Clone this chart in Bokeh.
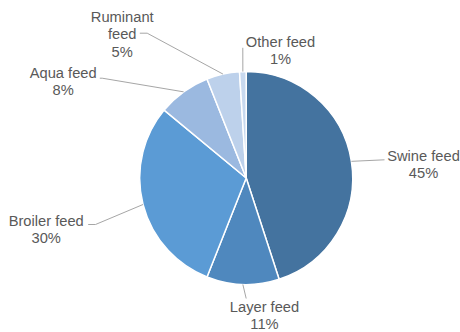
import math
from bokeh.plotting import figure
from bokeh.models import Range1d, ColumnDataSource
from bokeh.core.properties import value
from bokeh.embed import file_html
from bokeh.resources import INLINE

# ---- data ----
categories = ["Swine feed", "Layer feed", "Broiler feed", "Aqua feed", "Ruminant feed", "Other feed"]
shares = [45, 11, 30, 8, 5, 1]
colors = ["#44739F", "#4F88BE", "#5B9BD5", "#9BB9E0", "#BDD1EB", "#C8D9EF"]
label_lines = [["Swine feed"], ["Layer feed"], ["Broiler feed"], ["Aqua feed"], ["Ruminant", "feed"], ["Other feed"]]

# ---- layout (pixel coords, y down) ----
W, H = 460, 332
CX, CY, R = 245.7, 177.5, 106.5
label_pos = [(423, 155), (264, 306.5), (45.7, 220), (62.7, 72.7), (121.7, 16.7), (280, 41)]
leader_pts = [
    [(384, 159.3)],
    [(245.7, 298)],
    [(95, 224), (87.7, 224)],
    [(101.7, 77.7), (99.3, 77.7)],
    [(146.7, 32.7), (139.3, 32.7)],
    [(242.3, 47.3)],
]
LINE_H = 17.2

p = figure(width=W, height=H, x_range=Range1d(0, W), y_range=Range1d(0, H),
           output_backend="svg", toolbar_location=None, min_border=0)
p.axis.visible = False
p.grid.visible = False
p.outline_line_color = None
p.background_fill_color = "white"
p.border_fill_color = "white"

total = sum(shares)
starts, ends, mids = [], [], []
cum = 0
for s in shares:
    a0 = 90 - cum / total * 360
    cum += s
    a1 = 90 - cum / total * 360
    starts.append(math.radians(a0))
    ends.append(math.radians(a1))
    mids.append(math.radians((a0 + a1) / 2))

src = ColumnDataSource(dict(x=[CX] * len(shares), y=[H - CY] * len(shares),
                            start=starts, end=ends, color=colors))
p.wedge(x="x", y="y", radius=R, start_angle="start", end_angle="end",
        direction="clock", fill_color="color", line_color="white", line_width=1.5, source=src)

# leader lines
xs, ys = [], []
for m, pts in zip(mids, leader_pts):
    x0 = CX + R * math.cos(m)
    y0 = (H - CY) + R * math.sin(m)
    xs.append([x0] + [q[0] for q in pts])
    ys.append([y0] + [H - q[1] for q in pts])
p.multi_line(xs=xs, ys=ys, line_color="#A6A6A6", line_width=1)

# labels
tx, ty, tt = [], [], []
for lines, s, (lx, ly) in zip(label_lines, shares, label_pos):
    allines = lines + [f"{s}%"]
    for i, t in enumerate(allines):
        tx.append(lx)
        ty.append(H - (ly + i * LINE_H))
        tt.append(t)
p.text(x=tx, y=ty, text=tt, text_align="center", text_baseline="middle",
       text_font=value("Liberation Sans"), text_font_size="14.7px", text_color="#595959")

open("out.html", "w").write(file_html(p, INLINE))
